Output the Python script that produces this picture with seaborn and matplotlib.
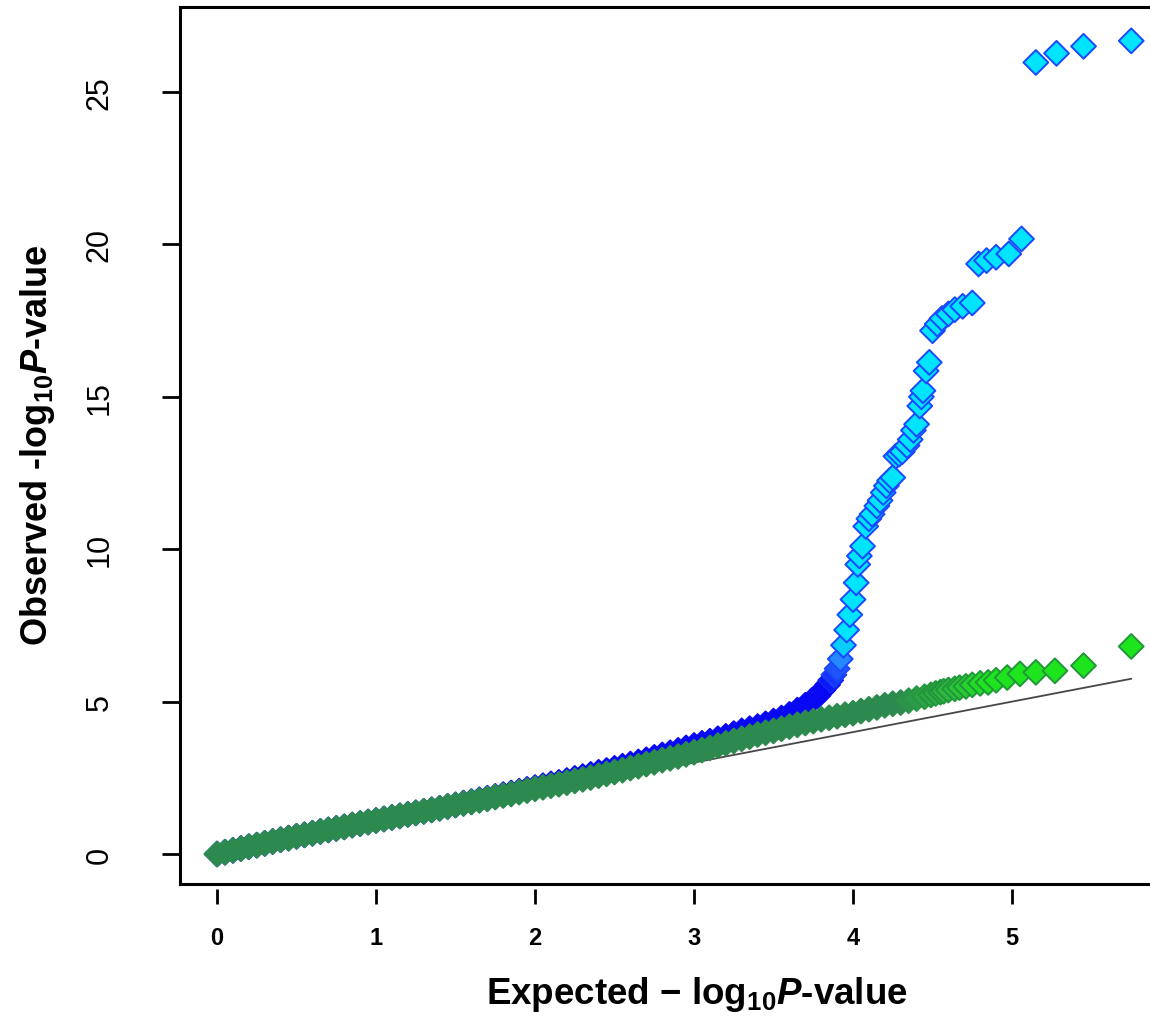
import numpy as np
import pandas as pd
import matplotlib
matplotlib.use("Agg")
import matplotlib.pyplot as plt
from matplotlib.colors import LinearSegmentedColormap, to_rgba
import seaborn as sns

# ---------------- data ----------------
expected_dense = [0.00, 0.05, 0.10, 0.15, 0.20, 0.25, 0.30, 0.35, 0.40, 0.45,
                  0.50, 0.55, 0.60, 0.65, 0.70, 0.75, 0.80, 0.85, 0.90, 0.95,
                  1.00, 1.05, 1.10, 1.15, 1.20, 1.25, 1.30, 1.35, 1.40, 1.45,
                  1.50, 1.55, 1.60, 1.65, 1.70, 1.75, 1.80, 1.85, 1.90, 1.95,
                  2.00, 2.05, 2.10, 2.15, 2.20, 2.25, 2.30, 2.35, 2.40, 2.45,
                  2.50, 2.55, 2.60, 2.65, 2.70, 2.75, 2.80, 2.85, 2.90, 2.95,
                  3.00, 3.05, 3.10, 3.15, 3.20, 3.25, 3.30, 3.35, 3.40, 3.45,
                  3.50, 3.55, 3.60, 3.65, 3.70]

green_dense = [0.00, 0.06, 0.12, 0.18, 0.24, 0.29, 0.35, 0.41, 0.47, 0.52,
               0.58, 0.63, 0.68, 0.74, 0.79, 0.84, 0.89, 0.95, 1.00, 1.05,
               1.10, 1.15, 1.20, 1.25, 1.30, 1.35, 1.40, 1.45, 1.50, 1.56,
               1.61, 1.66, 1.71, 1.76, 1.81, 1.87, 1.92, 1.97, 2.03, 2.08,
               2.14, 2.19, 2.24, 2.29, 2.34, 2.40, 2.45, 2.51, 2.57, 2.63,
               2.69, 2.75, 2.82, 2.88, 2.95, 3.01, 3.08, 3.14, 3.20, 3.27,
               3.34, 3.41, 3.48, 3.56, 3.63, 3.71, 3.78, 3.85, 3.92, 3.98,
               4.04, 4.11, 4.18, 4.24, 4.30]

blue_dense = [0.00, 0.06, 0.12, 0.18, 0.24, 0.29, 0.35, 0.41, 0.47, 0.52,
              0.58, 0.63, 0.68, 0.74, 0.79, 0.84, 0.89, 0.95, 1.00, 1.05,
              1.10, 1.15, 1.20, 1.25, 1.30, 1.35, 1.40, 1.45, 1.50, 1.56,
              1.61, 1.67, 1.72, 1.78, 1.83, 1.89, 1.95, 2.00, 2.06, 2.12,
              2.18, 2.24, 2.30, 2.35, 2.41, 2.48, 2.54, 2.61, 2.68, 2.74,
              2.81, 2.88, 2.95, 3.02, 3.09, 3.17, 3.25, 3.32, 3.40, 3.48,
              3.56, 3.63, 3.70, 3.78, 3.86, 3.95, 4.04, 4.11, 4.18, 4.27,
              4.36, 4.46, 4.58, 4.72, 4.88]

blue_tail_x = [3.74, 3.78, 3.81, 3.84, 3.86, 3.88, 3.90, 3.92, 3.94, 3.96,
               3.98, 4.00, 4.02, 4.03, 4.04, 4.06, 4.08, 4.10, 4.12, 4.15,
               4.17, 4.19, 4.21, 4.23, 4.25, 4.27, 4.29, 4.31, 4.34, 4.36,
               4.38, 4.40, 4.42, 4.43, 4.44, 4.46, 4.48, 4.50, 4.53, 4.56,
               4.60, 4.64, 4.69, 4.75, 4.79, 4.84, 4.90, 4.98, 5.06, 5.15,
               5.28, 5.45, 5.75]
blue_tail_y = [5.03, 5.20, 5.38, 5.55, 5.70, 5.88, 6.08, 6.40, 6.85, 7.35,
               7.85, 8.35, 8.90, 9.50, 9.78, 10.10, 10.75, 11.00, 11.15, 11.42,
               11.60, 11.86, 12.08, 12.25, 12.35, 13.05, 13.12, 13.20, 13.40, 13.60,
               13.90, 14.10, 14.70, 15.00, 15.20, 15.85, 16.13, 17.17, 17.39, 17.57,
               17.72, 17.86, 17.97, 18.08, 19.36, 19.47, 19.58, 19.69, 20.18, 25.97,
               26.27, 26.50, 26.68]

green_tail_x = [3.75, 3.80, 3.85, 3.90, 3.95, 4.00, 4.05, 4.10, 4.15, 4.20,
                4.25, 4.30, 4.35, 4.40, 4.45, 4.49, 4.52, 4.55, 4.57, 4.60,
                4.64, 4.67, 4.71, 4.75, 4.80, 4.85, 4.90, 4.97, 5.05, 5.15,
                5.27, 5.45, 5.75]
green_tail_y = [4.36, 4.42, 4.47, 4.52, 4.57, 4.62, 4.69, 4.75, 4.81, 4.88,
                4.93, 4.97, 5.03, 5.10, 5.16, 5.22, 5.27, 5.31, 5.34, 5.38,
                5.42, 5.46, 5.50, 5.55, 5.60, 5.63, 5.70, 5.79, 5.91, 5.96,
                6.01, 6.18, 6.81]

y_ticks = [0, 5, 10, 15, 20, 25]
x_ticks = [0, 1, 2, 3, 4, 5]

# ---------------- style ----------------
sns.set_theme(style="white")
plt.rcParams["font.family"] = ["Liberation Sans", "DejaVu Sans"]
plt.rcParams["mathtext.fontset"] = "custom"
plt.rcParams["mathtext.rm"] = "Liberation Sans:bold"
plt.rcParams["mathtext.bf"] = "Liberation Sans:bold"
plt.rcParams["mathtext.it"] = "Liberation Sans:italic:bold"

blue = pd.DataFrame({"expected": expected_dense + blue_tail_x,
                     "observed": blue_dense + blue_tail_y})
green = pd.DataFrame({"expected": expected_dense + green_tail_x,
                      "observed": green_dense + green_tail_y})
# shading: dense part dark, isolated tail points light (gradient-filled markers)
blue["shade"] = np.clip((blue["observed"] - 5.6) / 1.4, 0, 1)
green["shade"] = np.clip((green["expected"] - 4.3) / 0.55, 0, 1)

fig = plt.figure(figsize=(11.5, 10.2), dpi=100)
ax = fig.add_axes([180 / 1150, 1 - 885 / 1020, 970 / 1150, 877 / 1020])
ax.set_facecolor("white")

diag_max = max(blue["expected"].max(), green["expected"].max())
sns.lineplot(x=[0, diag_max], y=[0, diag_max], ax=ax, color="#474747",
             linewidth=1.3, zorder=1)

blue_cmap = LinearSegmentedColormap.from_list("qq_blue", ["#0808f4", "#2a78ff", "#00e4ff"])
green_cmap = LinearSegmentedColormap.from_list("qq_green", ["#2c8a4e", "#30b444", "#1ee41e"])


def draw(df, cmap, tail_edge, z):
    sns.scatterplot(data=df, x="expected", y="observed", hue="shade",
                    palette=cmap, hue_norm=(0, 1), marker="D", s=160,
                    linewidth=1.4, legend=False, ax=ax, zorder=z)
    coll = ax.collections[-1]
    faces = np.array([to_rgba(cmap(v)) for v in df["shade"]])
    edge = np.array(to_rgba(tail_edge))
    w = np.clip(df["shade"].to_numpy() * 3, 0, 1)[:, None]
    coll.set_facecolors(faces)
    coll.set_edgecolors(faces * (1 - w) + edge * w)


draw(blue, blue_cmap, "#1a48ff", 2)
draw(green, green_cmap, "#22963a", 3)

ax.set_xlim(-0.233, 5.868)
ax.set_ylim(-0.984, 27.79)
ax.set_xlabel("")
ax.set_ylabel("")

for side in ["top", "left", "bottom"]:
    ax.spines[side].set_visible(True)
    ax.spines[side].set_color("black")
    ax.spines[side].set_linewidth(2.2)
ax.spines["right"].set_visible(False)

ax.set_yticks(y_ticks)
ax.tick_params(axis="y", left=True, length=13, width=2, direction="out",
               pad=34, labelsize=22, labelrotation=90, colors="black")
for lab in ax.get_yticklabels():
    lab.set_va("center")
ax.tick_params(axis="x", bottom=False, labelbottom=False)

sec = ax.secondary_xaxis(-0.0057)
sec.set_xticks(x_ticks, labels=[str(t) for t in x_ticks], fontweight="bold")
sec.spines["bottom"].set_visible(False)
sec.tick_params(axis="x", length=11, width=2, direction="out", pad=16,
                labelsize=17, colors="black")

fig.text(697 / 1150, 1 - 995 / 1020, r"Expected − log$_{10}$$P$-value",
         ha="center", va="center", fontsize=26.5, fontweight="bold", color="black")
fig.text(38 / 1150, 1 - 445 / 1020, r"Observed -log$_{10}$$P$-value",
         rotation=90, ha="center", va="center", fontsize=26, fontweight="bold",
         color="black")

fig.savefig("out.png", dpi=100, facecolor="white")
